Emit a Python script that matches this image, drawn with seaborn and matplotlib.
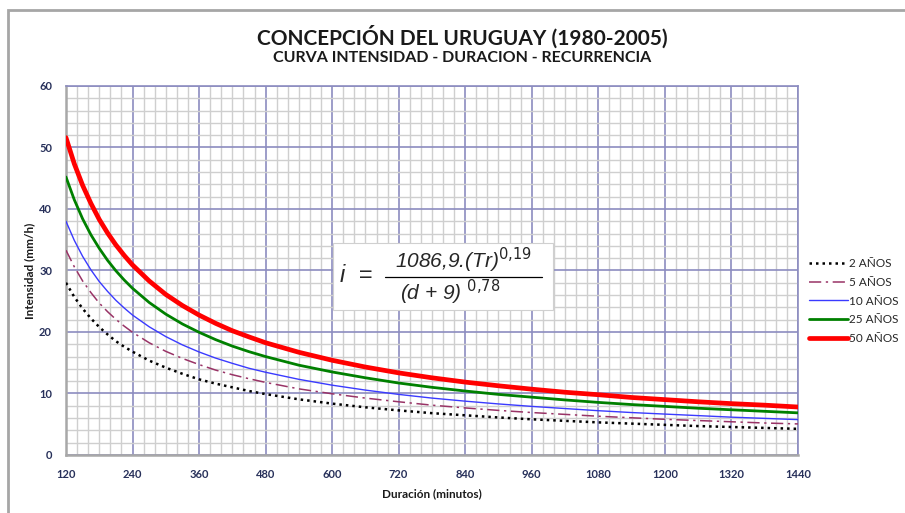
import pandas as pd
import matplotlib.pyplot as plt
import seaborn as sns
from matplotlib.patches import Rectangle
from matplotlib.ticker import MultipleLocator

# duracion (min) y curvas (mm/h)
duracion = [120, 135, 150, 165, 180, 195, 210, 225, 240, 270, 300, 330, 360, 390, 420, 450,
            480, 540, 600, 660, 720, 780, 840, 900, 960, 1020, 1080, 1140, 1200, 1260, 1320,
            1380, 1440]
tr_2 = [28.0, 25.7, 23.8, 22.2, 20.8, 19.6, 18.5, 17.6, 16.8, 15.35, 14.2, 13.2, 12.3, 11.6,
        11.0, 10.4, 9.9, 9.05, 8.35, 7.75, 7.25, 6.8, 6.45, 6.1, 5.8, 5.55, 5.3, 5.1, 4.9,
        4.7, 4.55, 4.4, 4.25]
tr_5 = [33.3, 30.6, 28.3, 26.4, 24.7, 23.3, 22.05, 20.95, 19.95, 18.25, 16.85, 15.7, 14.7,
        13.8, 13.05, 12.4, 11.8, 10.75, 9.95, 9.25, 8.65, 8.1, 7.65, 7.25, 6.9, 6.6, 6.3,
        6.05, 5.8, 5.6, 5.4, 5.2, 5.05]
tr_10 = [38.0, 34.9, 32.3, 30.1, 28.2, 26.6, 25.15, 23.9, 22.75, 20.85, 19.25, 17.9, 16.75,
         15.75, 14.9, 14.1, 13.45, 12.3, 11.35, 10.55, 9.85, 9.25, 8.75, 8.3, 7.9, 7.55, 7.2,
         6.9, 6.65, 6.4, 6.15, 5.95, 5.75]
tr_25 = [45.2, 41.5, 38.4, 35.8, 33.6, 31.65, 29.95, 28.45, 27.1, 24.8, 22.9, 21.3, 19.95,
         18.75, 17.7, 16.8, 16.0, 14.6, 13.5, 12.55, 11.7, 11.0, 10.4, 9.85, 9.4, 8.95, 8.55,
         8.2, 7.9, 7.6, 7.35, 7.1, 6.85]
tr_50 = [51.6, 47.35, 43.85, 40.9, 38.3, 36.1, 34.15, 32.45, 30.9, 28.3, 26.1, 24.3, 22.75,
         21.4, 20.2, 19.2, 18.25, 16.7, 15.4, 14.3, 13.35, 12.55, 11.85, 11.25, 10.7, 10.2,
         9.8, 9.35, 9.0, 8.65, 8.35, 8.1, 7.8]

series = ['2 AÑOS', '5 AÑOS', '10 AÑOS', '25 AÑOS', '50 AÑOS']
valores = [tr_2, tr_5, tr_10, tr_25, tr_50]
colores = ['#000000', '#993366', '#3a3aff', '#008000', '#ff0000']
anchos = [1.8, 1.1, 1.0, 2.0, 3.4]
estilos = [(0, (1, 1.6)), (0, (8, 3, 1.5, 3)), '-', '-', '-']

sns.set_style('white')
plt.rcParams['font.family'] = ['Lato', 'DejaVu Sans']

fig = plt.figure(figsize=(9.05, 5.13), dpi=100)
ax = fig.add_axes([0.0729, 0.1131, 0.8088, 0.7193])

for nombre, vals, c, lw, ls in zip(series, valores, colores, anchos, estilos):
    df = pd.DataFrame({'duracion': duracion, 'intensidad': vals})
    sns.lineplot(data=df, x='duracion', y='intensidad', color=c, lw=lw, ls=ls,
                 label=nombre, ax=ax, zorder=3)

ax.set_xlim(120, 1440)
ax.set_ylim(0, 60)
ax.xaxis.set_major_locator(MultipleLocator(120))
ax.xaxis.set_minor_locator(MultipleLocator(20))
ax.yaxis.set_major_locator(MultipleLocator(10))
ax.yaxis.set_minor_locator(MultipleLocator(2))
ax.grid(which='minor', color='#cfcfcf', lw=1.0, zorder=0)
ax.grid(which='major', color='#8c8cc0', lw=1.2, zorder=1)
ax.set_axisbelow(True)

for s in ['top', 'right']:
    ax.spines[s].set_color('#8c8cc0')
    ax.spines[s].set_linewidth(1.2)
for s in ['left', 'bottom']:
    ax.spines[s].set_color('#a8a8a8')
    ax.spines[s].set_linewidth(1.8)

ax.tick_params(which='major', length=4, width=1.2, color='#8c8cc0',
               labelsize=8, labelcolor='#27305a', pad=6)
ax.tick_params(which='minor', length=0)
for t in ax.get_xticklabels() + ax.get_yticklabels():
    t.set_fontweight('bold')

ax.set_xlabel('Duración (minutos)', fontsize=8.5, fontweight='bold', color='#1a1a1a', labelpad=6)
ax.set_ylabel('Intensidad (mm/h)', fontsize=8.5, fontweight='bold', color='#1a1a1a', labelpad=3)

ax.legend(loc='center left', bbox_to_anchor=(1.0, 0.417), frameon=False, fontsize=8.5,
          handlelength=3.3, handletextpad=0.15, labelspacing=0.65, borderaxespad=0.5)

# titulo
fig.text(0.511, 0.928, 'CONCEPCIÓN DEL URUGUAY (1980-2005)', ha='center', va='center',
         fontsize=15, fontweight='bold', color='#1a1a1a')
fig.text(0.511, 0.886, 'CURVA INTENSIDAD - DURACION - RECURRENCIA', ha='center', va='center',
         fontsize=11.5, fontweight='bold', color='#1a1a1a')

# recuadro de la formula
x0, x1 = 333 / 905, 553 / 905
y0, y1 = 1 - 310 / 513, 1 - 243 / 513
fig.add_artist(Rectangle((x0, y0), x1 - x0, y1 - y0, transform=fig.transFigure,
                         facecolor='white', edgecolor='#d0d0d0', lw=0.8, zorder=5))
ff = ['Liberation Sans', 'DejaVu Sans']
fig.text(340 / 905, 1 - 276 / 513, 'i  =', ha='left', va='center', fontsize=17,
         style='italic', family=ff, zorder=6)
fig.text(463 / 905, 1 - 260 / 513, '1086,9.(Tr)$^{0{,}19}$', ha='center', va='center',
         fontsize=15, style='italic', family=ff, zorder=6)
fig.text(450 / 905, 1 - 292 / 513, '(d + 9) $^{0{,}78}$', ha='center', va='center',
         fontsize=15, style='italic', family=ff, zorder=6)
fig.add_artist(plt.Line2D([385 / 905, 542 / 905], [1 - 277 / 513, 1 - 277 / 513],
                          transform=fig.transFigure, color='black', lw=0.9, zorder=6))

# marco exterior
fig.add_artist(Rectangle((8 / 905, -0.1), 1.2, 1.1 - 10 / 513, transform=fig.transFigure,
                         fill=False, edgecolor='#a6a6a6', lw=2, clip_on=False))

fig.savefig('out.png', dpi=100)
